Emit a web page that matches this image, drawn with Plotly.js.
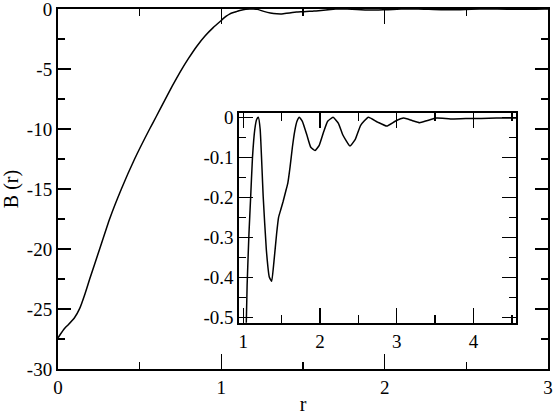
<!DOCTYPE html>
<html>
<head>
<meta charset="utf-8">
<script src="https://cdn.plot.ly/plotly-3.0.1.min.js"></script>
<style>
html,body{margin:0;padding:0;background:#fff}
#chart{width:554px;height:415px}
</style>
</head>
<body>
<div id="chart"></div>
<script>
// r values and B(r)
var r = [0, 0.02, 0.045, 0.06, 0.1, 0.133, 0.165, 0.194, 0.255, 0.316, 0.388, 0.469, 0.561, 0.6, 0.65, 0.7, 0.75, 0.8, 0.85, 0.9, 0.95, 1.0,
  1.03, 1.05, 1.074, 1.096, 1.12, 1.15, 1.175, 1.196, 1.22, 1.26, 1.3, 1.34, 1.37, 1.4, 1.435, 1.46, 1.49, 1.52, 1.56,
  1.58, 1.61, 1.64, 1.67, 1.70, 1.73, 1.77, 1.83, 1.88, 1.935, 1.99, 2.05, 2.1, 2.17, 2.24, 2.3, 2.39, 2.46, 2.53,
  2.63, 2.75, 2.87, 2.98, 3.09, 3.2, 3.3, 3.4, 3.52, 3.7, 3.9, 4.1, 4.3, 4.5, 4.56];
var B = [-27.4, -27.0, -26.55, -26.35, -25.75, -24.95, -23.75, -22.5, -20.0, -17.5, -15.0, -12.5, -10.0, -9.0, -7.7, -6.4, -5.2, -4.1, -3.1, -2.25, -1.55, -0.95,
  -0.6, -0.42, -0.29, -0.2, -0.1, -0.03, -0.005, 0, -0.03, -0.2, -0.33, -0.40, -0.41, -0.36, -0.29, -0.25, -0.23, -0.21, -0.18,
  -0.165, -0.124, -0.075, -0.035, -0.01, 0, -0.01, -0.045, -0.075, -0.083, -0.07, -0.035, -0.01, 0, -0.015, -0.045, -0.072, -0.055, -0.02,
  0, -0.012, -0.022, -0.01, -0.002, -0.008, -0.0135, -0.008, -0.002, -0.004, -0.003, -0.003, -0.002, -0.002, -0.002];

var mainXTicks = [0, 1, 2, 3];
var mainXLabels = ["0", "1", "2", "3"];
var mainYTicks = [0, -5, -10, -15, -20, -25, -30];
var mainYLabels = ["0", "-5", "-10", "-15", "-20", "-25", "-30"];
var insetXTicks = [1, 2, 3, 4];
var insetXLabels = ["1", "2", "3", "4"];
var insetYTicks = [0, -0.1, -0.2, -0.3, -0.4, -0.5];
var insetYLabels = ["0", "-0.1", "-0.2", "-0.3", "-0.4", "-0.5"];

var FAMILY = "Liberation Serif";
function mkFont(size) { return {family: FAMILY, size: size, color: "#000"}; }

function mkLine() { return {color: "#000", width: 1.5, shape: "spline", smoothing: 0.4}; }

var traces = [
  {x: r, y: B, type: "scatter", mode: "lines", line: mkLine(), xaxis: "x", yaxis: "y", hoverinfo: "skip"},
  {x: r, y: B, type: "scatter", mode: "lines", line: mkLine(), xaxis: "x2", yaxis: "y2", hoverinfo: "skip"}
];

function mkMinor(dt, len) {
  return {dtick: dt, tick0: 0, ticks: "inside", ticklen: len, tickcolor: "#000", tickwidth: 1.5, showgrid: false};
}

function ax(extra) {
  var base = {
    showline: true, linecolor: "#000", linewidth: 2, mirror: "ticks",
    ticks: "inside", tickcolor: "#000", tickwidth: 1.5, ticklen: 15,
    showgrid: false, zeroline: false, tickfont: mkFont(19), ticklabeloverflow: "allow"
  };
  for (var k in extra) base[k] = extra[k];
  return base;
}

var layout = {
  width: 554, height: 415,
  margin: {l: 58, r: 6, t: 9, b: 46},
  paper_bgcolor: "#fff", plot_bgcolor: "#fff",
  showlegend: false,
  font: {family: FAMILY, size: 19, color: "#000"},
  xaxis: ax({range: [0, 3], domain: [0, 1], tickmode: "array", tickvals: mainXTicks, ticktext: mainXLabels,
    minor: mkMinor(0.5, 7),
    title: {text: "r", font: mkFont(20), standoff: 2}}),
  yaxis: ax({range: [-30, 0], domain: [0, 1], tickmode: "array", tickvals: mainYTicks, ticktext: mainYLabels, ticklen: 13,
    minor: mkMinor(2.5, 7),
    title: {text: "B (r)", font: mkFont(20), standoff: 6}}),
  xaxis2: ax({range: [0.948, 4.557], domain: [0.370, 0.935], anchor: "y2", tickmode: "array", tickvals: insetXTicks, ticktext: insetXLabels,
    minor: mkMinor(0.5, 8)}),
  yaxis2: ax({range: [-0.5135, 0.0115], domain: [0.1286, 0.712], anchor: "x2", tickmode: "array", tickvals: insetYTicks, ticktext: insetYLabels, ticklen: 14,
    minor: mkMinor(0.05, 7)})
};

function applySerif(gd) {
  var texts = gd.querySelectorAll("svg text");
  var probe = "";
  for (var i = 0; i < texts.length; i++) {
    texts[i].style.fontFamily = '"Liberation Serif"';
    probe += getComputedStyle(texts[i]).fontFamily;
  }
  gd.setAttribute("data-font", probe.length);
  void gd.offsetHeight;
}

Plotly.newPlot("chart", traces, layout, {displayModeBar: false, staticPlot: true}).then(function (gd) {
  applySerif(gd);
  if (document.fonts && document.fonts.ready) {
    document.fonts.ready.then(function () { applySerif(gd); });
  }
});
</script>
</body>
</html>
